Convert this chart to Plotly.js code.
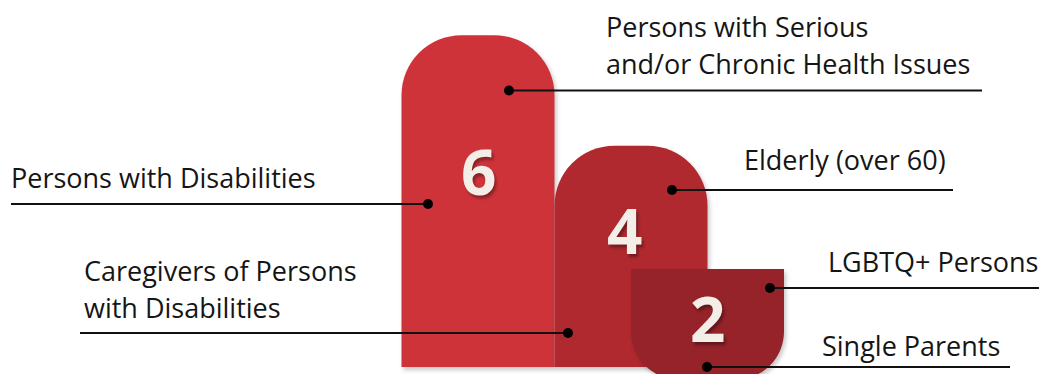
<!DOCTYPE html>
<html>
<head>
<meta charset="utf-8">
<script src="https://cdn.plot.ly/plotly-3.0.1.min.js"></script>
<style>
  html, body { margin: 0; padding: 0; background: #ffffff; }
  #chart { width: 1039px; height: 374px; }
  .barlayer .point path { filter: drop-shadow(2px 3px 2px rgba(0,0,0,0.22)); }
</style>
</head>
<body>
<div id="chart"></div>
<script>
// ---------------- data ----------------
const barValues = [6, 4, 2];
const barColors = ['#CF333A', '#B0292F', '#952329'];
const groupLabels = [
  'Persons with Serious<br>and/or Chronic Health Issues',
  'Persons with Disabilities',
  'Elderly (over 60)',
  'Caregivers of Persons<br>with Disabilities',
  'LGBTQ+ Persons',
  'Single Parents'
];
const groupBar = [0, 0, 1, 1, 2, 2];

// ---------------- layout helpers (pixels) ----------------
const W = 1039, H = 374;
const UNIT_X = 153;        // px per bar width
const X0_PX = 478;         // pixel of the first bar centre
const UNIT_Y = 55.3;       // px per value unit
const BASE_PX = 367;       // pixel of the zero line
const BAR3_TOP_PX = 269;   // top of the hanging bar
const barX = [0, 1, 1.5];  // bar slots (in bar widths)
const barRadius = [60, 60, 48];

const px = v => v / W;
const py = v => 1 - v / H;

// label placement: text left/center y, dot position, line end
const labelPlace = [
  { tx: 604, ty: 26, dot: [509, 90.5], end: 982 },
  { tx: 9,   ty: 177, dot: [428, 204], end: 11 },
  { tx: 742, ty: 160, dot: [672, 190], end: 953 },
  { tx: 82,  ty: 270, dot: [568, 333], end: 80 },
  { tx: 826, ty: 261, dot: [770, 288], end: 1039 },
  { tx: 820, ty: 345, dot: [707, 367], end: 1010 }
];
const numberPlace = [[478, 171], [624, 230], [707, 318]];

// ---------------- traces ----------------
const traces = barValues.map((v, i) => ({
  type: 'bar',
  x: [barX[i]],
  y: [v],
  width: 1,
  yaxis: i === 2 ? 'y2' : 'y',
  marker: { color: barColors[i], cornerradius: barRadius[i], line: { width: 0 } },
  hoverinfo: 'skip',
  showlegend: false
}));

// ---------------- shapes & annotations ----------------
const shapes = [];
const annotations = [];
const LINE_GAP = 37;

groupLabels.forEach((lab, i) => {
  const p = labelPlace[i];
  shapes.push({
    type: 'line', xref: 'paper', yref: 'paper', layer: 'above',
    x0: px(p.dot[0]), x1: px(p.end), y0: py(p.dot[1]), y1: py(p.dot[1]),
    line: { color: '#111111', width: 2 }
  });
  const r = 5;
  shapes.push({
    type: 'circle', xref: 'paper', yref: 'paper', layer: 'above',
    x0: px(p.dot[0] - r), x1: px(p.dot[0] + r),
    y0: py(p.dot[1] + r), y1: py(p.dot[1] - r),
    fillcolor: '#000000', line: { width: 0 }
  });
  lab.split('<br>').forEach((line, k) => {
    annotations.push({
      xref: 'paper', yref: 'paper', showarrow: false,
      x: px(p.tx), y: py(p.ty + k * LINE_GAP),
      xanchor: 'left', yanchor: 'middle',
      text: line,
      font: { family: 'Open Sans', size: 27, color: '#151515' }
    });
  });
});

barValues.forEach((v, i) => {
  annotations.push({
    xref: 'paper', yref: 'paper', showarrow: false,
    x: px(numberPlace[i][0]), y: py(numberPlace[i][1]),
    xanchor: 'center', yanchor: 'middle',
    text: String(v),
    font: { family: 'Open Sans', size: 62, weight: 700, color: '#F3EEE8',
            shadow: '2px 3px 3px rgba(0,0,0,0.35)' }
  });
});

const layout = {
  width: W, height: H,
  margin: { l: 0, r: 0, t: 0, b: 0, pad: 0 },
  paper_bgcolor: '#ffffff', plot_bgcolor: '#ffffff',
  barmode: 'overlay',
  xaxis: { visible: false, range: [(0 - X0_PX) / UNIT_X, (W - X0_PX) / UNIT_X], fixedrange: true },
  yaxis: { visible: false, range: [(BASE_PX - H) / UNIT_Y, BASE_PX / UNIT_Y], fixedrange: true },
  yaxis2: { visible: false, overlaying: 'y',
            range: [(H - BAR3_TOP_PX) / UNIT_Y, (0 - BAR3_TOP_PX) / UNIT_Y], fixedrange: true },
  shapes: shapes,
  annotations: annotations,
  showlegend: false
};

Plotly.newPlot('chart', traces, layout, { staticPlot: true, displayModeBar: false });
</script>
</body>
</html>
